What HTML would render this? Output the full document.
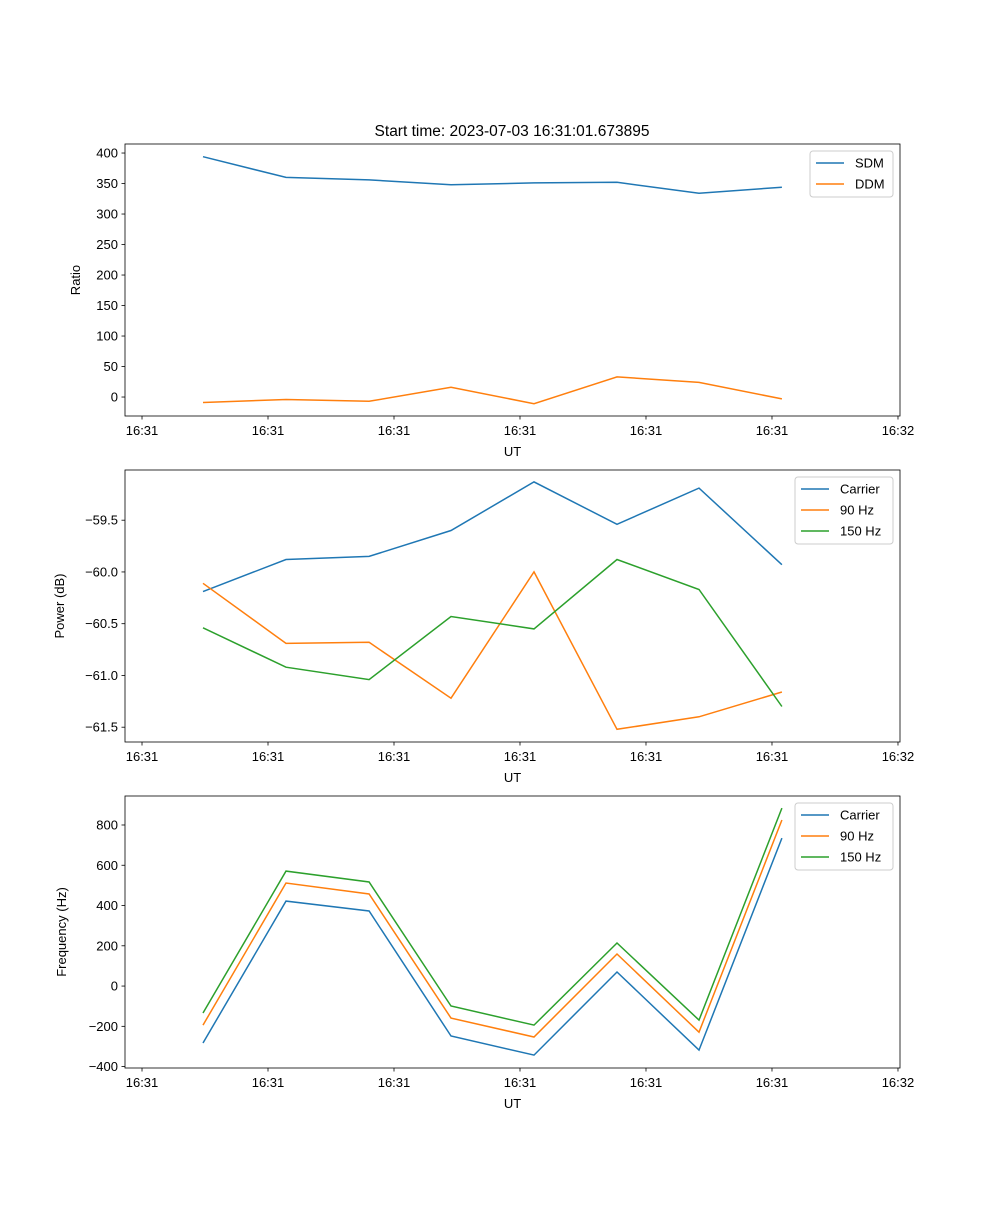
<!DOCTYPE html>
<html><head><meta charset="utf-8"><style>
body{margin:0;background:#fff}
svg text{font-family:"Liberation Sans","DejaVu Sans",sans-serif;font-size:13px;fill:#000}
</style></head><body>
<svg id="c" width="1000" height="1200" xmlns="http://www.w3.org/2000/svg">
<rect width="1000" height="1200" fill="#fff"/>
<text x="512" y="136" text-anchor="middle" style="font-size:15.5px">Start time: 2023-07-03 16:31:01.673895</text>
</svg>
<script>
const times=[4.84,11.43,18.02,24.52,31.11,37.70,44.21,50.79];
const xTickVals=[0,10,20,30,40,50,60];
const xTickLabels=["16:31","16:31","16:31","16:31","16:31","16:31","16:32"];
const sdm=[394,360,356,348,351,352,334,344];
const ddm=[-9,-4,-7,16,-11,33,24,-3];
const pCarrier=[-60.19,-59.88,-59.85,-59.60,-59.13,-59.54,-59.19,-59.93];
const p90=[-60.11,-60.69,-60.68,-61.22,-60.00,-61.52,-61.40,-61.16];
const p150=[-60.54,-60.92,-61.04,-60.43,-60.55,-59.88,-60.17,-61.30];
const fCarrier=[-283,422,373,-248,-343,70,-318,735];
const f90=[-194,512,457,-159,-253,159,-229,825];
const f150=[-134,571,517,-99,-194,214,-169,884];
const ratioTicks=[0,50,100,150,200,250,300,350,400];
const powerTicks=[-61.5,-61.0,-60.5,-60.0,-59.5];
const freqTicks=[-400,-200,0,200,400,600,800];

const svg=document.getElementById('c');
const NS='http://www.w3.org/2000/svg';
const L=125,R=900,X0=-1.35,X1=60.16;
function x(t){return L+(t-X0)/(X1-X0)*(R-L);}
function mk(tag,attrs,parent){const e=document.createElementNS(NS,tag);for(const k in attrs)e.setAttribute(k,attrs[k]);(parent||svg).appendChild(e);return e;}
function panel(key,top,bot,y0,y1,ticks,fmt,ylabel,ylabelX,series,leg){
  const g=mk('g',{});
  
  
  const y=v=>bot-(v-y0)/(y1-y0)*(bot-top);
  series.forEach(s=>{
    const p=mk('polyline',{points:s.vals.map((v,i)=>x(times[i]).toFixed(1)+','+y(v).toFixed(1)).join(' '),fill:'none',stroke:s.color,'stroke-width':1.5},g);
    
    
  });
  mk('rect',{x:L,y:top,width:R-L,height:bot-top,fill:'none',stroke:'#000','stroke-width':0.8},g);
  ticks.forEach(v=>{
    const yy=y(v);
    mk('line',{x1:L-3.5,x2:L,y1:yy,y2:yy,stroke:'#000','stroke-width':0.8},g);
    const t=mk('text',{x:L-7,y:yy+4.5,'text-anchor':'end'},g);t.textContent=fmt(v);
    
    
  });
  xTickVals.forEach((v,i)=>{
    const xx=x(v);
    mk('line',{x1:xx,x2:xx,y1:bot,y2:bot+3.5,stroke:'#000','stroke-width':0.8},g);
    const t=mk('text',{x:xx,y:bot+19,'text-anchor':'middle'},g);t.textContent=xTickLabels[i];
    
    
  });
  const xl=mk('text',{x:(L+R)/2,y:bot+40,'text-anchor':'middle'},g);xl.textContent='UT';
  
  
  const yc=(top+bot)/2;
  const yl=mk('text',{x:ylabelX,y:yc,'text-anchor':'middle',transform:'rotate(-90 '+ylabelX+' '+yc+')'},g);yl.textContent=ylabel;
  
  
  const lg=mk('g',{},g);
  
  
  mk('rect',{x:leg.x,y:top+7,width:893-leg.x,height:series.length*21+4,rx:3,fill:'#fff',stroke:'#ccc','stroke-width':1},lg);
  series.forEach((s,i)=>{
    const yy=top+19+i*21;
    mk('line',{x1:leg.x+6,x2:leg.x+34,y1:yy,y2:yy,stroke:s.color,'stroke-width':1.5},lg);
    const t=mk('text',{x:leg.x+45,y:yy+4.5},lg);t.textContent=s.name;
    
    
  });
}
const B='#1f77b4',O='#ff7f0e',G='#2ca02c';
panel('ratio',144,416,-31.1,414.8,ratioTicks,v=>String(v),'Ratio',80,
 [{id:'sdm',name:'SDM',vals:sdm,color:B},{id:'ddm',name:'DDM',vals:ddm,color:O}],{x:810});
panel('power',470,742,-61.643,-59.015,powerTicks,v=>(v<0?'\u2212':'')+Math.abs(v).toFixed(1),'Power (dB)',64,
 [{id:'carrier',name:'Carrier',vals:pCarrier,color:B},{id:'90hz',name:'90 Hz',vals:p90,color:O},{id:'150hz',name:'150 Hz',vals:p150,color:G}],{x:795});
panel('frequency',796,1068,-407,944,freqTicks,v=>(v<0?'\u2212':'')+Math.abs(v),'Frequency (Hz)',66,
 [{id:'carrier',name:'Carrier',vals:fCarrier,color:B},{id:'90hz',name:'90 Hz',vals:f90,color:O},{id:'150hz',name:'150 Hz',vals:f150,color:G}],{x:795});
</script>
</body></html>
